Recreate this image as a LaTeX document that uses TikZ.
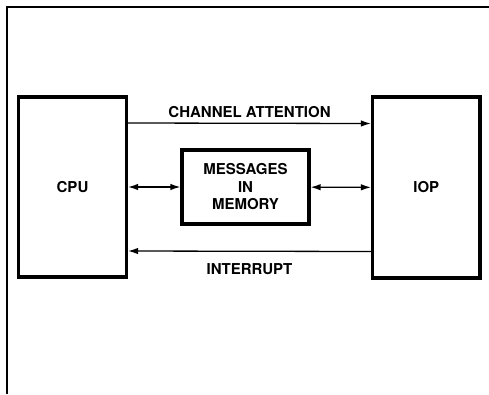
\documentclass[tikz,border=0pt]{standalone}
\usepackage{fontspec}
\setmainfont{TeX Gyre Heros}
\usetikzlibrary{arrows.meta,positioning}

\begin{document}
\begin{tikzpicture}[x=1pt,y=-1pt,
    unit/.style={draw,line width=3.2pt,inner sep=0pt,font=\bfseries\fontsize{15}{17.5}\selectfont,align=center},
    link/.style={line width=1.3pt,-{Latex[length=10pt,width=6.5pt]}},
    dlink/.style={line width=1.3pt,{Latex[length=10pt,width=6.5pt]}-{Latex[length=10pt,width=6.5pt]}},
    tag/.style={font=\bfseries\fontsize{15}{17}\selectfont,inner sep=0pt}]
  \useasboundingbox (0,0) rectangle (489,394);
  \draw[line width=2.4pt] (7,394)--(7,7)--(489,7);
  \node[unit,minimum width=108pt,minimum height=180pt] (cpu) at (72.5,187) {CPU};
  \node[unit,minimum width=107.5pt,minimum height=181pt] (iop) at (426.25,187.5) {IOP};
  \node[unit,minimum width=127pt,minimum height=74pt] (mem) at (245.5,187) {MESSAGES\\IN\\MEMORY};
  \draw[link] ([yshift=64pt]cpu.east)--([yshift=64pt]iop.west) node[tag,midway,above=5pt] {CHANNEL ATTENTION};
  \draw[link] ([yshift=-64pt]iop.west)--([yshift=-64pt]cpu.east) node[tag,midway,below=12pt] {INTERRUPT};
  \draw[dlink] (cpu)--(mem);
  \draw[dlink] (mem)--(iop);
\end{tikzpicture}
\end{document}
